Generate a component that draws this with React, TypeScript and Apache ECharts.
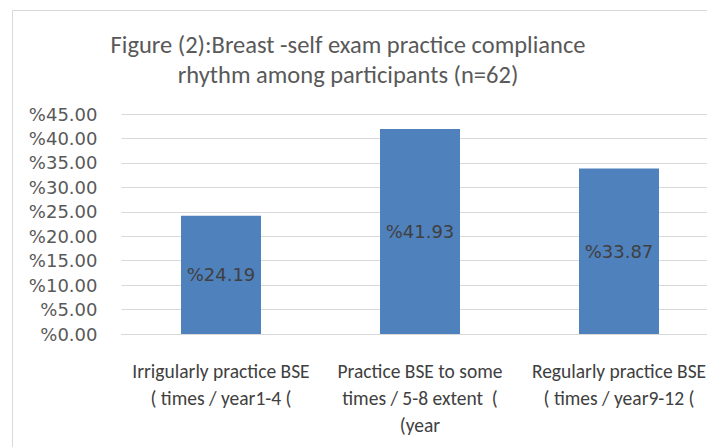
import React, { useEffect, useRef } from "react";
import * as echarts from "echarts";

const titleLines = [
  "Figure (2):Breast -self exam practice compliance",
  "rhythm among participants (n=62)",
];
const categories = [
  "Irrigularly practice BSE\n( times / year1-4 (",
  "Practice BSE to some\ntimes / 5-8 extent  (\n(year",
  "Regularly practice BSE\n( times / year9-12 (",
];
const values = [24.19, 41.93, 33.87];
const yMin = 0;
const yMax = 45;
const yStep = 5;

const narrow = "Carlito, 'Liberation Sans Narrow', 'Open Sans', sans-serif";
const numFont = "'DejaVu Sans', 'Liberation Sans', sans-serif";

export default function App() {
  const ref = useRef<HTMLDivElement>(null);
  useEffect(() => {
    document.body.style.margin = "0";
    document.body.style.overflow = "hidden";
    const chart = echarts.init(ref.current!, null, { renderer: "svg" });
    chart.setOption({
      animation: false,
      backgroundColor: "#ffffff",
      title: {
        text: titleLines.join("\n"),
        left: 343,
        top: 25,
        textAlign: "center",
        textStyle: {
          fontFamily: narrow,
          fontSize: 24.5,
          fontWeight: "normal",
          color: "#595959",
          lineHeight: 30,
        },
      },
      graphic: [
        {
          type: "rect",
          shape: { x: 12.5, y: 10.5, width: 760, height: 500 },
          style: { fill: "none", stroke: "#d9d9d9", lineWidth: 1 },
          silent: true,
        },
      ],
      grid: { left: 121.5, top: 114, width: 597, height: 220, containLabel: false },
      xAxis: {
        type: "category",
        data: categories,
        axisLine: { show: true, lineStyle: { color: "#d9d9d9" } },
        axisTick: { show: false },
        axisLabel: {
          interval: 0,
          margin: 23,
          fontFamily: narrow,
          fontSize: 19.5,
          lineHeight: 27,
          color: "#404040",
          align: "center",
        },
      },
      yAxis: {
        type: "value",
        min: yMin,
        max: yMax,
        interval: yStep,
        axisLine: { show: false },
        axisTick: { show: false },
        splitLine: { lineStyle: { color: "#d9d9d9" } },
        axisLabel: {
          margin: 24,
          fontFamily: numFont,
          fontSize: 18,
          color: "#595959",
          formatter: (v: number) => "%" + v.toFixed(2),
        },
      },
      series: [
        {
          type: "bar",
          data: values,
          barWidth: 80,
          itemStyle: { color: "#4f81bd" },
          label: {
            show: true,
            position: "inside",
            fontFamily: numFont,
            fontSize: 18,
            color: "#404040",
            formatter: (p: any) => "%" + Number(p.value).toFixed(2),
          },
        },
      ],
    });
    return () => chart.dispose();
  }, []);
  return (
    <div
      ref={ref}
      style={{ position: "absolute", left: 0, top: 0, width: 740, height: 460 }}
    />
  );
}
